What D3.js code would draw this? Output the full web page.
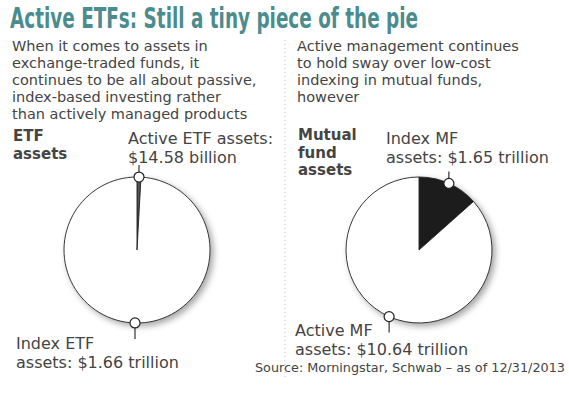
<!DOCTYPE html>
<html>
<head>
<meta charset="utf-8">
<script src="https://cdn.jsdelivr.net/npm/d3@7"></script>
<style>
  body { margin: 0; background: #fff; }
  text { font-family: "DejaVu Sans", Verdana, sans-serif; fill: #444; }
</style>
</head>
<body>
<svg id="chart"></svg>
<script>
// data (values in billions of dollars)
const etfLabels = ['Active ETF', 'Index ETF'];
const etfValues = [14.58, 1660];
const mfLabels = ['Index MF', 'Active MF'];
const mfValues = [1650, 10640];

const titleText = 'Active ETFs: Still a tiny piece of the pie';
const leftNote = ['When it comes to assets in', 'exchange-traded funds, it',
  'continues to be all about passive,', 'index-based investing rather',
  'than actively managed products'];
const rightNote = ['Active management continues', 'to hold sway over low-cost',
  'indexing in mutual funds,', 'however'];
const sourceText = 'Source: Morningstar, Schwab \u2013 as of 12/31/2013';

// set up constants
const width = 569;
const height = 398;
const radius = 73;

const svg = d3.select('#chart')
  .attr('width', width)
  .attr('height', height);

// drop shadow for the pies
const filter = svg.append('defs').append('filter')
  .attr('id', 'shadow')
  .attr('x', '-20%').attr('y', '-20%')
  .attr('width', '150%').attr('height', '150%');
filter.append('feDropShadow')
  .attr('dx', 3).attr('dy', 3)
  .attr('stdDeviation', 3)
  .attr('flood-color', '#000')
  .attr('flood-opacity', 0.35);

// title
svg.append('text')
  .attr('x', 10)
  .attr('y', 28)
  .attr('textLength', 408)
  .attr('lengthAdjust', 'spacingAndGlyphs')
  .style('font-family', '"DejaVu Sans Condensed", "Liberation Sans Narrow", "DejaVu Sans", sans-serif')
  .style('font-stretch', 'condensed')
  .style('font-weight', 'bold')
  .style('font-size', '28px')
  .style('fill', '#4b8c8e')
  .text(titleText);

// multi-line text block, one <text> with a tspan per line
function addLines(lines, x, y0, step, size, weight) {
  svg.append('text')
    .attr('x', x)
    .attr('y', y0)
    .style('font-size', size)
    .style('font-weight', weight || 'normal')
    .selectAll('tspan')
    .data(lines)
    .enter()
    .append('tspan')
    .attr('x', x)
    .attr('y', (d, i) => y0 + i * step)
    .text(d => d);
}
addLines(leftNote, 12, 51, 17, '14.5px');
addLines(rightNote, 297, 51, 17, '14.5px');

// dotted separator
svg.append('line')
  .attr('x1', 285).attr('x2', 285)
  .attr('y1', 40).attr('y2', 378)
  .attr('stroke', '#a8c6c6')
  .attr('stroke-dasharray', '1,3');

// pie helper
const pie = d3.pie().sort(null).value(d => d);
const arc = d3.arc().innerRadius(0).outerRadius(radius);

function drawPie(values, cx, cy, fills) {
  const g = svg.append('g')
    .attr('transform', `translate(${cx},${cy})`);
  const arcs = pie(values);

  g.append('g')
    .attr('filter', 'url(#shadow)')
    .selectAll('path')
    .data(arcs)
    .enter()
    .append('path')
    .attr('d', arc)
    .attr('fill', (d, i) => fills[i])
    .attr('stroke', '#222')
    .attr('stroke-width', 0.9);

  // markers with short leader lines
  arcs.forEach(d => {
    const a = (d.startAngle + d.endAngle) / 2;
    const x = radius * Math.sin(a);
    const y = -radius * Math.cos(a);
    const up = y < 0;
    g.append('line')
      .attr('x1', x).attr('x2', x)
      .attr('y1', up ? y - 5 : y + 5)
      .attr('y2', up ? y - 12 : y + 16)
      .attr('stroke', '#333')
      .attr('stroke-width', 1.2);
    g.append('circle')
      .attr('cx', x).attr('cy', y)
      .attr('r', 5)
      .attr('fill', '#fff')
      .attr('stroke', '#222')
      .attr('stroke-width', 1.2);
  });
}

drawPie(etfValues, 137, 250, ['#555', '#fff']);
drawPie(mfValues, 419, 250, ['#1e1e1e', '#fff']);

// pie headings
addLines(['ETF', 'assets'], 13, 141, 17.6, '15px', 'bold');
addLines(['Mutual', 'fund', 'assets'], 298, 140, 17.6, '15px', 'bold');

// slice labels
addLines([etfLabels[0] + ' assets:', '$14.58 billion'], 128, 144, 18.7, '16px');
addLines([etfLabels[1], 'assets: $1.66 trillion'], 16, 349, 18.7, '16px');
addLines([mfLabels[0], 'assets: $1.65 trillion'], 386, 144, 18.7, '16px');
addLines([mfLabels[1], 'assets: $10.64 trillion'], 295, 336, 18.7, '16px');

// source
svg.append('text')
  .attr('x', 565)
  .attr('y', 372)
  .attr('text-anchor', 'end')
  .style('font-size', '12.8px')
  .text(sourceText);
</script>
</body>
</html>
